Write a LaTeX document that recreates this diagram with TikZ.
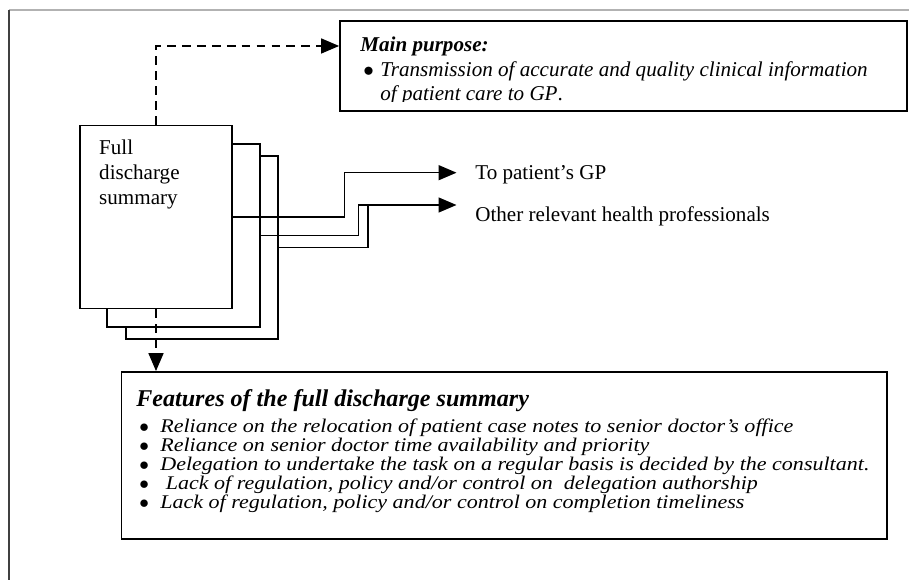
\documentclass[tikz,border=0pt]{standalone}
\usepackage{fontspec}
\setmainfont{Liberation Serif}
\newfontfamily\widefont[FakeStretch=1.14, Ligatures=TeX]{Liberation Serif}
\usetikzlibrary{arrows.meta}
\tikzstyle{docpage} = [draw=black, fill=white, line width=1pt, rectangle, minimum width=3.05cm, minimum height=3.66cm, inner sep=0pt]
\tikzstyle{infobox} = [draw=black, line width=1pt, rectangle, inner sep=0pt]
\tikzstyle{boxtext} = [anchor=base west, inner sep=0pt, font=\fontsize{12}{13.9}\selectfont]
\tikzstyle{wire} = [line width=0.85pt]
\tikzstyle{link} = [wire, -{Triangle[length=0.36cm, width=0.3cm]}]
\tikzstyle{dashlink} = [link, dash pattern=on 5pt off 3.5pt]
\tikzstyle{destlabel} = [anchor=base west, inner sep=0pt, font=\fontsize{12}{14}\selectfont]
\newcommand{\itm}[2][0.42cm]{\hspace*{0.06cm}\makebox[#1][l]{$\bullet$}\textit{#2}}

\begin{document}
\begin{tikzpicture}
\useasboundingbox (0,0) rectangle (18.18,11.6);
% page frame
\draw[gray!60, line width=1.2pt] (0.18,11.4) -- (18.18,11.4);
\draw[black!75, line width=1pt] (0.18,11.4) -- (0.18,0);

% stack of summary pages
\node [docpage] (page3) at (4.04,6.653) {};
\node [docpage] (page2) at (3.67,6.89) {};
\node [docpage] (doc) at (3.12,7.26) {};
\node [boxtext, font=\fontsize{12}{14.3}\selectfont] (doctitle) at ([shift={(0.4,-0.6)}]doc.north west) {%
    \begin{minipage}[t]{2.6cm}
    Full\\discharge\\summary
    \end{minipage}
};

% main purpose
\node [infobox, minimum width=11.34cm, minimum height=1.8cm] (purpose) at (12.47,10.28) {};
\begin{scope}
\clip (purpose.north west) rectangle ([yshift=0.2cm]purpose.south east);
\node [boxtext] (purposetext) at (7.2,10.56) {%
    \begin{minipage}[t]{10.8cm}
    \textbf{\textit{Main purpose:}}\\
    \itm[0.34cm]{Transmission of accurate and quality clinical information}\\
    \hspace*{0.4cm}\textit{of patient care to GP}.
    \end{minipage}
};
\end{scope}

% features
\node [infobox, minimum width=15.31cm, minimum height=3.34cm] (feat) at (10.085,2.49) {};
\node [boxtext, font=\widefont\fontsize{11}{10.8}\selectfont] (feattext) at (2.72,3.46) {%
    \begin{minipage}[t]{15cm}
    \setlength{\lineskiplimit}{-10pt}%
    {\rmfamily\fontsize{13.7}{10.8}\selectfont\textbf{\textit{Features of the full discharge summary}}}\\[3.6pt]
    \itm{Reliance on the relocation of patient case notes to senior doctor's office}\\
    \itm{Reliance on senior doctor time availability and priority}\\
    \itm{Delegation to undertake the task on a regular basis is decided by the consultant.}\\
    \itm{\ Lack of regulation, policy and/or control on \ delegation authorship}\\
    \itm{Lack of regulation, policy and/or control on completion timeliness}
    \end{minipage}
};

% destinations
\coordinate (gptip) at (9.13,8.146);
\coordinate (othtip) at (9.13,7.5);
\node [destlabel] (gp) at (9.5,8.0) {To patient's GP};
\node [destlabel] (others) at (9.5,7.17) {Other relevant health professionals};

\draw [link] (doc.east) -- ++(2.23,0) |- (gptip);
\draw [link] (page2.east) -- ++(1.96,0) |- (othtip);
\draw [wire] (page3.east) -- ++(1.775,0) coordinate (join) -- (join |- othtip);

\draw [dashlink] (doc.north) |- ([yshift=0.4cm]purpose.west);
\draw [dashlink] (doc.south) -- (doc.south |- feat.north);
\end{tikzpicture}
\end{document}
